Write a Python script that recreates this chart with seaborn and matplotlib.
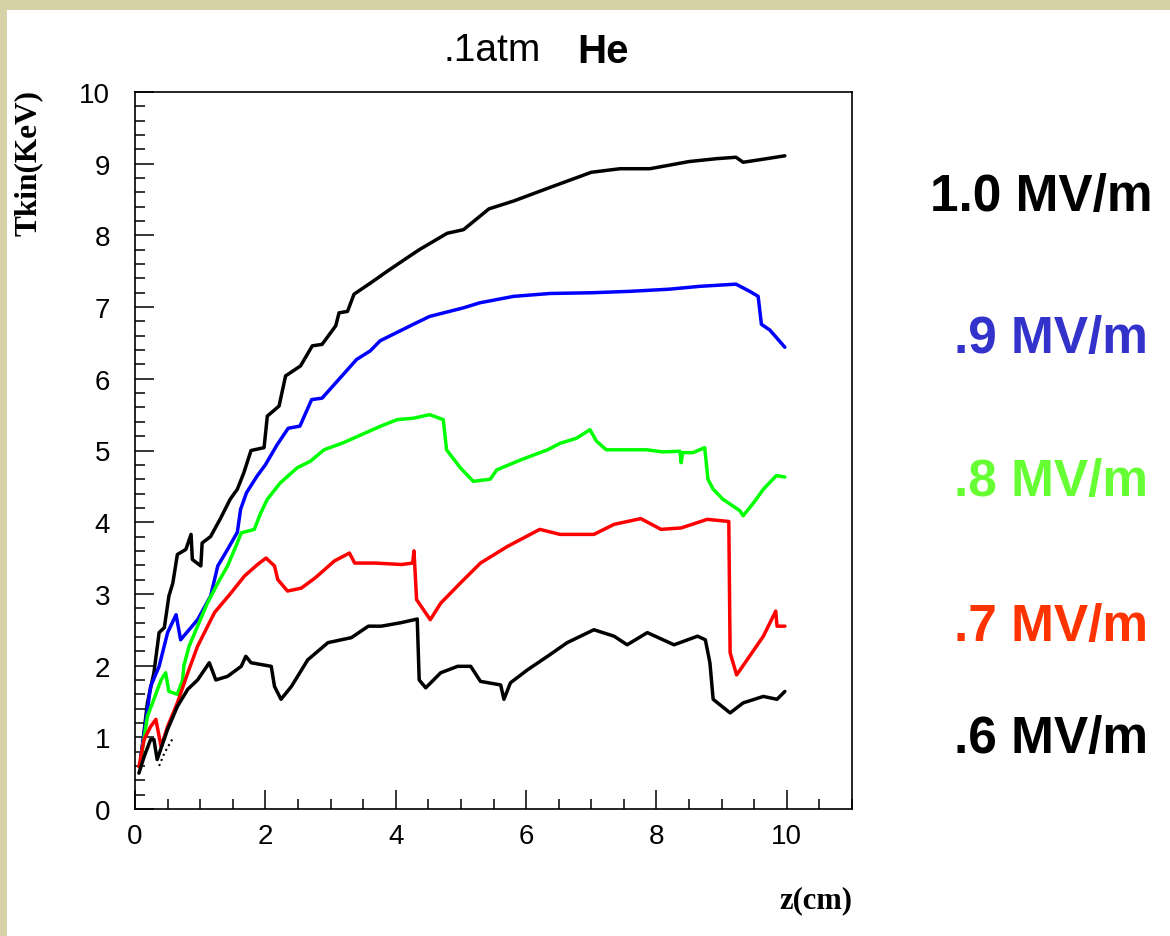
import matplotlib
matplotlib.use("Agg")
import matplotlib.pyplot as plt
from matplotlib.patches import Rectangle
from matplotlib.ticker import MultipleLocator
import seaborn as sns
import pandas as pd

# ---- data ----
z_10 = [0.09, 0.19, 0.29, 0.37, 0.45, 0.52, 0.58, 0.65, 0.78, 0.86, 0.88, 1.01, 1.03, 1.16, 1.31, 1.46,
        1.57, 1.67, 1.78, 1.98, 2.03, 2.21, 2.31, 2.54, 2.72, 2.87, 3.08, 3.13, 3.26, 3.36, 3.62, 3.87,
        4.13, 4.36, 4.79, 5.04, 5.43, 5.81, 6.37, 7.0, 7.44, 7.9, 8.5, 8.92, 9.22, 9.33, 9.69, 9.97]
T_10 = [0.70, 1.48, 1.90, 2.46, 2.53, 2.97, 3.15, 3.55, 3.62, 3.83, 3.48, 3.39, 3.71, 3.80, 4.05, 4.32,
        4.46, 4.69, 5.00, 5.04, 5.48, 5.62, 6.04, 6.18, 6.46, 6.48, 6.74, 6.92, 6.94, 7.18, 7.34, 7.50,
        7.66, 7.80, 8.03, 8.08, 8.37, 8.48, 8.67, 8.88, 8.93, 8.93, 9.03, 9.07, 9.09, 9.02, 9.07, 9.11]

z_09 = [0.09, 0.24, 0.37, 0.50, 0.63, 0.70, 0.96, 1.16, 1.27, 1.42, 1.57, 1.62, 1.71, 1.87, 2.00, 2.18,
        2.35, 2.53, 2.71, 2.87, 3.40, 3.61, 3.76, 4.27, 4.52, 5.04, 5.29, 5.81, 6.37, 7.0, 7.6, 8.2,
        8.67, 9.22, 9.43, 9.56, 9.61, 9.74, 9.97]
T_09 = [0.73, 1.71, 1.99, 2.46, 2.71, 2.36, 2.64, 2.97, 3.39, 3.62, 3.86, 4.18, 4.41, 4.64, 4.80, 5.08,
        5.31, 5.34, 5.71, 5.73, 6.27, 6.39, 6.53, 6.76, 6.87, 6.99, 7.06, 7.15, 7.19, 7.20, 7.22, 7.25,
        7.29, 7.32, 7.22, 7.15, 6.76, 6.68, 6.44]

z_08 = [0.09, 0.19, 0.29, 0.40, 0.47, 0.52, 0.65, 0.73, 0.75, 0.83, 0.96, 1.11, 1.27, 1.42, 1.55, 1.63,
        1.83, 1.93, 2.03, 2.23, 2.49, 2.69, 2.90, 3.20, 3.77, 4.02, 4.27, 4.52, 4.73, 4.78, 4.99, 5.19,
        5.45, 5.55, 5.92, 6.33, 6.52, 6.77, 6.98, 7.08, 7.23, 7.85, 8.10, 8.36, 8.38, 8.40, 8.56, 8.74,
        8.79, 8.87, 9.02, 9.28, 9.33, 9.49, 9.64, 9.84, 9.97]
T_08 = [0.69, 1.29, 1.53, 1.80, 1.90, 1.64, 1.60, 1.80, 2.00, 2.27, 2.55, 2.87, 3.15, 3.39, 3.67, 3.85,
        3.90, 4.13, 4.32, 4.55, 4.76, 4.85, 5.01, 5.11, 5.34, 5.43, 5.45, 5.50, 5.43, 5.01, 4.76, 4.57,
        4.60, 4.73, 4.87, 5.01, 5.10, 5.17, 5.29, 5.13, 5.01, 5.01, 4.98, 4.99, 4.83, 4.97, 4.97, 5.04,
        4.60, 4.46, 4.32, 4.16, 4.09, 4.27, 4.46, 4.65, 4.63]

z_07 = [0.06, 0.14, 0.24, 0.32, 0.40, 0.50, 0.65, 0.81, 0.96, 1.22, 1.47, 1.68, 1.88, 2.01, 2.14, 2.19,
        2.34, 2.55, 2.76, 3.06, 3.29, 3.37, 3.68, 4.09, 4.26, 4.28, 4.32, 4.53, 4.69, 4.99, 5.30, 5.71,
        6.21, 6.52, 7.04, 7.35, 7.76, 8.07, 8.38, 8.78, 9.11, 9.13, 9.23, 9.39, 9.64, 9.83, 9.85, 9.97]
T_07 = [0.59, 0.97, 1.15, 1.25, 0.87, 1.15, 1.48, 1.90, 2.27, 2.74, 3.01, 3.25, 3.41, 3.50, 3.39, 3.20,
        3.04, 3.08, 3.22, 3.46, 3.57, 3.43, 3.43, 3.41, 3.43, 3.60, 2.92, 2.64, 2.87, 3.15, 3.43, 3.66,
        3.90, 3.83, 3.83, 3.97, 4.05, 3.90, 3.92, 4.04, 4.01, 2.18, 1.87, 2.08, 2.41, 2.76, 2.55, 2.55]

z_06 = [0.06, 0.14, 0.24, 0.29, 0.34, 0.50, 0.65, 0.81, 0.96, 1.14, 1.24, 1.42, 1.63, 1.70, 1.78, 2.09,
        2.14, 2.24, 2.40, 2.65, 2.96, 3.32, 3.58, 3.78, 4.09, 4.33, 4.36, 4.46, 4.69, 4.95, 5.15, 5.30,
        5.61, 5.66, 5.76, 6.02, 6.33, 6.63, 7.04, 7.35, 7.55, 7.86, 8.27, 8.63, 8.75, 8.82, 8.87, 9.13,
        9.33, 9.64, 9.85, 9.97]
T_06 = [0.50, 0.73, 0.97, 0.97, 0.69, 1.11, 1.43, 1.67, 1.80, 2.04, 1.80, 1.85, 1.99, 2.13, 2.04, 1.99,
        1.71, 1.53, 1.71, 2.08, 2.32, 2.39, 2.55, 2.55, 2.60, 2.65, 1.80, 1.69, 1.90, 1.99, 1.99, 1.78,
        1.73, 1.53, 1.76, 1.94, 2.13, 2.32, 2.50, 2.41, 2.29, 2.46, 2.29, 2.41, 2.36, 2.04, 1.53, 1.34,
        1.48, 1.57, 1.53, 1.64]

z_tail = [0.37, 0.45, 0.57]
T_tail = [0.60, 0.78, 0.97]

series_names = ["1.0 MV/m", ".9 MV/m", ".8 MV/m", ".7 MV/m", ".6 MV/m"]
line_colors = ["#000000", "#0000ff", "#00ff00", "#ff0000", "#000000"]
label_colors = ["#000000", "#3333cc", "#66ff33", "#ff3300", "#000000"]

x_ticks = [0, 2, 4, 6, 8, 10]
y_ticks = list(range(0, 11))

# ---- figure ----
sns.set_style("ticks")
plt.rcParams["text.color"] = "black"
plt.rcParams["xtick.color"] = "black"
plt.rcParams["ytick.color"] = "black"
W, H = 1170, 937
fig = plt.figure(figsize=(W / 100, H / 100), dpi=100)
fig.patch.set_facecolor("#d6d2a8")
bg = Rectangle((7 / W, 0), 1 - 7 / W, 1 - 11 / H, transform=fig.transFigure,
               facecolor="white", edgecolor="none", zorder=-10)
fig.patches.append(bg)

ax = fig.add_axes([135 / W, (H - 810) / H, 717 / W, 717 / H])
ax.set_zorder(5)
ax.set_facecolor("white")

data = [(z_10, T_10), (z_09, T_09), (z_08, T_08), (z_07, T_07), (z_06, T_06)]
for (zz, tt), name, col in zip(data, series_names, line_colors):
    df = pd.DataFrame({"z": zz, "T": tt})
    sns.lineplot(data=df, x="z", y="T", ax=ax, color=col, linewidth=2.5,
                 sort=False, estimator=None, legend=False)
df_tail = pd.DataFrame({"z": z_tail, "T": T_tail})
sns.lineplot(data=df_tail, x="z", y="T", ax=ax, color="black", linewidth=1.5,
             linestyle=":", sort=False, estimator=None, legend=False)

ax.set_xlim(0, 11)
ax.set_ylim(0, 10)
ax.set_xticks(x_ticks)
ax.set_yticks(y_ticks)
ax.xaxis.set_minor_locator(MultipleLocator(0.5))
ax.yaxis.set_minor_locator(MultipleLocator(0.2))
ax.tick_params(axis="both", which="major", direction="in", length=14, width=1.1,
               labelsize=20, top=False, right=False, colors="black")
ax.tick_params(axis="both", which="minor", direction="in", length=7, width=1.1,
               top=False, right=False, colors="black")
ax.tick_params(axis="y", which="major", pad=18)
ax.tick_params(axis="x", which="major", pad=10)
for lab in ax.get_xticklabels() + ax.get_yticklabels():
    lab.set_fontfamily("Liberation Sans")
for s in ax.spines.values():
    s.set_visible(True)
    s.set_linewidth(1.2)
    s.set_color("black")
ax.set_xlabel("")
ax.set_ylabel("")

# axis titles
fig.text(28 / W, 1 - 90 / H, "Tkin(KeV)", rotation=90, ha="center", va="top",
         fontsize=22.5, fontweight="bold", family="Liberation Serif", color="black")
fig.text(852 / W, 1 - 908 / H, "z(cm)", ha="right", va="baseline",
         fontsize=22, fontweight="bold", family="Liberation Serif", color="black")

# title
fig.text(541 / W, 1 - 61 / H, ".1atm", ha="right", va="baseline", fontsize=28,
         family="Liberation Sans", color="black")
fig.text(577 / W, 1 - 63 / H, "He", ha="left", va="baseline", fontsize=29,
         fontweight="bold", family="Liberation Sans", color="black")

# right-hand labels
label_baselines = [211, 353, 496, 641, 753]
label_right = [1152, 1148, 1148, 1148, 1148]
for name, col, yb, xr in zip(series_names, label_colors, label_baselines, label_right):
    fig.text(xr / W, 1 - yb / H, name, ha="right", va="baseline", fontsize=37,
             fontweight="bold", color=col, family="Liberation Sans")

fig.savefig("out.png", dpi=100, facecolor=fig.get_facecolor())
